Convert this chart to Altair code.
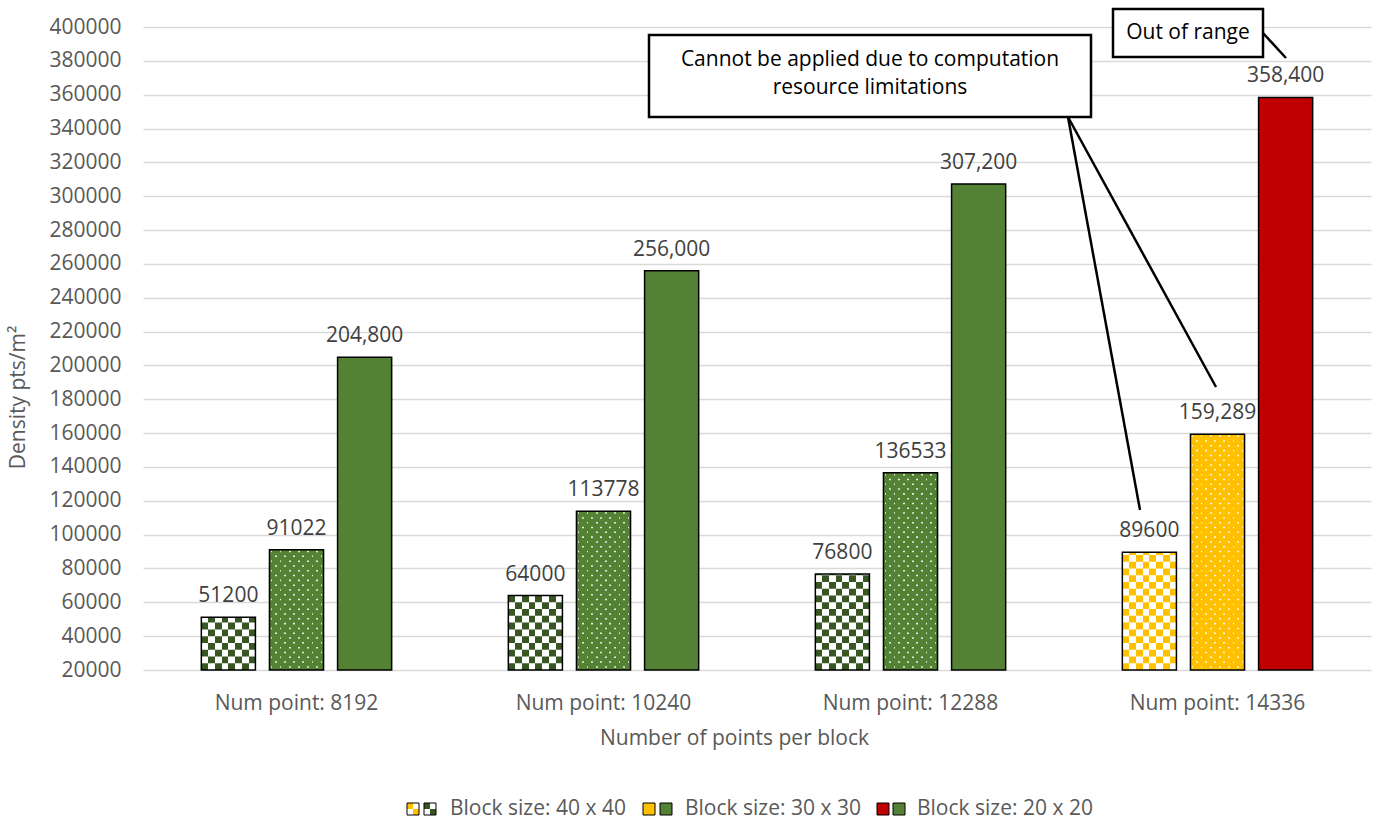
import altair as alt
import pandas as pd

# ---------------- data ----------------
categories = ["Num point: 8192", "Num point: 10240", "Num point: 12288", "Num point: 14336"]
series = ["Block size: 40 x 40", "Block size: 30 x 30", "Block size: 20 x 20"]
values_40 = [51200, 64000, 76800, 89600]
values_30 = [91022, 113778, 136533, 159289]
values_20 = [204800, 256000, 307200, 358400]
labels_40 = ["51200", "64000", "76800", "89600"]
labels_30 = ["91022", "113778", "136533", "159,289"]
labels_20 = ["204,800", "256,000", "307,200", "358,400"]
schemes_40 = ["green", "green", "green", "yellow"]
schemes_30 = ["green", "green", "green", "yellow"]
schemes_20 = ["green", "green", "green", "red"]
y_ticks = list(range(20000, 400001, 20000))

callout_1 = ["Cannot be applied due to computation", "resource limitations"]
callout_2 = "Out of range"

FONT = "Open Sans"
GREEN = "#548235"
DARK_GREEN = "#375623"
YELLOW = "#FFC000"
RED = "#C00000"
BASE = 20000

rows = []
for s, vals, labs, schs, kind in [
    (series[0], values_40, labels_40, schemes_40, "checker"),
    (series[1], values_30, labels_30, schemes_30, "dots"),
    (series[2], values_20, labels_20, schemes_20, "solid"),
]:
    for c, v, l, sc in zip(categories, vals, labs, schs):
        rows.append(dict(cat=c, series=s, value=v, label=l, scheme=sc, kind=kind))
bars = pd.DataFrame(rows)

# pattern rows (styling decomposition of the patterned bars)
CELL = 4000
checker_rows = []
dot_rows = []
for r in rows:
    if r["kind"] == "checker":
        k = 0
        y0 = BASE
        while y0 < r["value"]:
            y1 = min(y0 + CELL, r["value"])
            checker_rows.append(dict(cat=r["cat"], series=r["series"], y0=y0, y1=y1,
                                     scheme=r["scheme"], parity=k % 2))
            k += 1
            y0 += CELL
    if r["kind"] == "dots":
        k = 0
        y0 = BASE + 1400
        while y0 + 890 < r["value"] - 500:
            dot_rows.append(dict(cat=r["cat"], series=r["series"], y0=y0, y1=y0 + 890,
                                 parity=k % 2))
            k += 1
            y0 += 2840
checker_df = pd.DataFrame(checker_rows)
dots_df = pd.DataFrame(dot_rows)


def stripes(c1, c2, n):
    stops = []
    for k in range(n):
        c = c1 if k % 2 == 0 else c2
        stops.append(alt.GradientStop(color=c, offset=k / n))
        stops.append(alt.GradientStop(color=c, offset=(k + 1) / n))
    return alt.LinearGradient(gradient="linear", stops=stops, x1=0, x2=1, y1=0, y2=0)


def dots(shift, n=6, w=0.17):
    clear = "rgba(255,255,255,0)"
    stops = []
    for k in range(n):
        c = (k + shift) / n
        a = max(0.0, c - w / (2 * n))
        b = min(1.0, c + w / (2 * n))
        stops += [alt.GradientStop(color=clear, offset=a),
                  alt.GradientStop(color="#ffffff", offset=a),
                  alt.GradientStop(color="#ffffff", offset=b),
                  alt.GradientStop(color=clear, offset=b)]
    return alt.LinearGradient(gradient="linear", stops=stops, x1=0, x2=1, y1=0, y2=0)


# ---------------- encodings ----------------
x_enc = alt.X("cat:N", sort=categories,
              scale=alt.Scale(domain=categories, paddingInner=0.38, paddingOuter=0.19),
              axis=alt.Axis(title="Number of points per block", labelAngle=0, ticks=False,
                            domain=False, labelFontSize=21, labelFont=FONT, labelColor="#595959",
                            labelPadding=22, titleFont=FONT, titleFontSize=21,
                            titleFontWeight="normal", titleColor="#595959", titlePadding=14,
                            titleX=591, titleAlign="center"))
xo_enc = alt.XOffset("series:N", sort=series,
                     scale=alt.Scale(domain=series, paddingInner=0.206, paddingOuter=0))
y_scale = alt.Scale(domain=[20000, 400000], zero=False, nice=False)
y_axis = alt.Axis(title="Density pts/m²", values=y_ticks, format="d", ticks=False, tickSize=0,
                  domain=False, labelFontSize=21, labelFont=FONT, labelColor="#595959",
                  labelPadding=22, gridColor="#d9d9d9", gridWidth=1.3, titleFont=FONT,
                  titleFontSize=21, titleFontWeight="normal", titleColor="#595959",
                  titleX=-125, titleY=370, titleAngle=270, titleBaseline="middle",
                  titleAlign="center")


def y_enc(field):
    return alt.Y(f"{field}:Q", scale=y_scale, axis=y_axis)


bar_chart = alt.Chart(bars)

# base solid fill (dots & solid bars)
base = bar_chart.mark_bar().encode(
    x=x_enc, xOffset=xo_enc, y=y_enc("value"), y2=alt.datum(BASE),
    color=alt.Color("scheme:N", scale=alt.Scale(domain=["green", "yellow", "red"],
                                                range=[GREEN, YELLOW, RED]), legend=None),
).transform_filter(alt.datum.kind != "checker")

layers = [base]

for sc, col in [("green", DARK_GREEN), ("yellow", YELLOW)]:
    layers.append(bar_chart.mark_bar(fill=stripes(col, "#ffffff", 8)).encode(
        x=x_enc, xOffset=xo_enc, y=y_enc("value"), y2=alt.datum(BASE)
    ).transform_filter((alt.datum.kind == "checker") & (alt.datum.scheme == sc)))
    layers.append(alt.Chart(checker_df).mark_bar(fill=stripes("#ffffff", col, 8)).encode(
        x=x_enc, xOffset=xo_enc, y=y_enc("y0"), y2="y1:Q"
    ).transform_filter((alt.datum.parity == 1) & (alt.datum.scheme == sc)))

for p, sh in [(0, 0.25), (1, 0.75)]:
    layers.append(alt.Chart(dots_df).mark_bar(fill=dots(sh), opacity=0.85).encode(
        x=x_enc, xOffset=xo_enc, y=y_enc("y0"), y2="y1:Q"
    ).transform_filter(alt.datum.parity == p))

# outlines
layers.append(bar_chart.mark_bar(fill="transparent", stroke="#000000", strokeWidth=1.5).encode(
    x=x_enc, xOffset=xo_enc, y=y_enc("value"), y2=alt.datum(BASE)))

# data labels
layers.append(bar_chart.mark_text(baseline="alphabetic", dy=-15, fontSize=21, font=FONT,
                                  color="#404040").encode(
    x=x_enc, xOffset=xo_enc, y=y_enc("value"), text="label:N"))

# ---------------- annotations ----------------
one = pd.DataFrame({"a": [0]})


def rect(x, x2, y, y2, **kw):
    return alt.Chart(one).mark_rect(**kw).encode(
        x=alt.value(x), x2=alt.value(x2), y=alt.value(y), y2=alt.value(y2))


def rule(x, y, x2, y2, **kw):
    return alt.Chart(one).mark_rule(**kw).encode(
        x=alt.value(x), y=alt.value(y), x2=alt.value(x2), y2=alt.value(y2))


def label(t, x, y, **kw):
    return alt.Chart(one).mark_text(text=t, font=FONT, **kw).encode(
        x=alt.value(x), y=alt.value(y))


line_kw = dict(stroke="#000000", strokeWidth=2.5)
layers += [
    rule(925, 90, 997, 483, **line_kw),
    rule(925, 90, 1073, 360, **line_kw),
    rule(1120, 6, 1143, 31, **line_kw),
    rect(506, 948, 8, 90, fill="#ffffff", stroke="#000000", strokeWidth=2.5),
    label(callout_1[0], 727, 33, fontSize=21, color="#000000", align="center", baseline="middle"),
    label(callout_1[1], 727, 61, fontSize=21, color="#000000", align="center", baseline="middle"),
    rect(970, 1120, -18, 30, fill="#ffffff", stroke="#000000", strokeWidth=2.5),
    label(callout_2, 1045, 6, fontSize=21, color="#000000", align="center", baseline="middle"),
]

# ---------------- legend ----------------
LY0, LY1 = 776, 788
LYM = (LY0 + LY1) / 2


def checker_swatch(x, col):
    return [
        rect(x, x + 12, LY0, LYM, fill=stripes(col, "#ffffff", 2)),
        rect(x, x + 12, LYM, LY1, fill=stripes("#ffffff", col, 2)),
        rect(x, x + 12, LY0, LY1, fill="transparent", stroke="#000000", strokeWidth=1),
    ]


def solid_swatch(x, col):
    return [rect(x, x + 12, LY0, LY1, fill=col, stroke="#000000", strokeWidth=1)]


leg_kw = dict(fontSize=21, color="#595959", align="left", baseline="middle")
layers += checker_swatch(264, YELLOW) + checker_swatch(281, DARK_GREEN)
layers.append(label(series[0], 307, LYM, **leg_kw))
layers += solid_swatch(500, YELLOW) + solid_swatch(517, GREEN)
layers.append(label(series[1], 542, LYM, **leg_kw))
layers += solid_swatch(734, RED) + solid_swatch(750, GREEN)
layers.append(label(series[2], 774, LYM, **leg_kw))

chart = alt.layer(*layers).properties(
    width=1228, height=643,
    autosize=alt.AutoSizeParams(type="none"),
    padding={"left": 143, "top": 27, "right": 7, "bottom": 154},
    background="#ffffff",
).configure_view(stroke=None)

chart.save("out.html", embed_options={"renderer": "svg", "actions": False})
